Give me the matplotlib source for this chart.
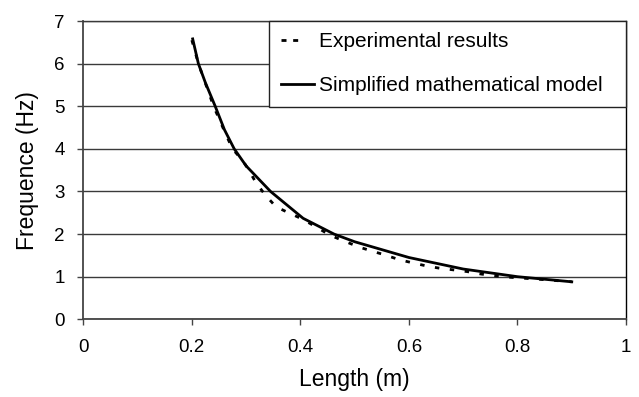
import matplotlib
matplotlib.use('Agg')
import matplotlib.pyplot as plt

# ── data ─────────────────────────────────────────────────────────────────
length_exp = [0.200, 0.212, 0.240, 0.264, 0.275, 0.295, 0.304, 0.318, 0.335,
              0.355, 0.380, 0.404, 0.430, 0.455, 0.482, 0.507, 0.532, 0.556,
              0.582, 0.605, 0.633, 0.656, 0.682, 0.707, 0.734, 0.759, 0.783,
              0.805, 0.850, 0.900]
freq_exp = [6.55, 6.00, 5.00, 4.30, 4.00, 3.70, 3.52, 3.21, 2.92,
            2.64, 2.49, 2.35, 2.16, 1.97, 1.83, 1.70, 1.60, 1.51,
            1.40, 1.33, 1.25, 1.20, 1.16, 1.12, 1.06, 1.02, 0.99,
            0.97, 0.93, 0.88]

length_model = [0.2015, 0.212, 0.225, 0.243, 0.260, 0.278, 0.300, 0.345,
                0.405, 0.462, 0.500, 0.600, 0.700, 0.800, 0.900]
freq_model = [6.58, 6.00, 5.55, 5.00, 4.45, 4.00, 3.60, 3.00,
              2.37, 2.00, 1.82, 1.45, 1.18, 1.00, 0.88]

x_ticks = [0, 0.2, 0.4, 0.6, 0.8, 1]
x_tick_labels = ['0', '0.2', '0.4', '0.6', '0.8', '1']
y_ticks = [0, 1, 2, 3, 4, 5, 6, 7]

plt.rcParams['font.family'] = ['Liberation Sans', 'DejaVu Sans']

fig = plt.figure(figsize=(6.39, 3.97), dpi=100)
ax = fig.add_axes([0.1304, 0.1957, 0.8493, 0.7514])

ax.plot(length_exp, freq_exp, color='black', lw=2.0, ls=(0, (1.6, 3.8)),
        label='Experimental results')
ax.plot(length_model, freq_model, color='black', lw=2.0,
        label='Simplified mathematical model')

ax.set_xlim(0, 1)
ax.set_ylim(0, 7)
ax.set_xticks(x_ticks)
ax.set_xticklabels(x_tick_labels)
ax.set_yticks(y_ticks)
ax.yaxis.grid(True, color='#3a3a3a', lw=1.0)
ax.set_axisbelow(True)

for side in ('left', 'bottom'):
    ax.spines[side].set_color('#444444')
    ax.spines[side].set_linewidth(1.3)
ax.spines['right'].set_color('black')
ax.spines['right'].set_linewidth(1.0)
ax.spines['top'].set_color('#3a3a3a')
ax.spines['top'].set_linewidth(1.0)

ax.tick_params(axis='both', direction='out', length=4.5, width=1.0,
               color='#444444', labelsize=13.5)
ax.tick_params(axis='y', pad=9)
ax.tick_params(axis='x', pad=10)

ax.set_xlabel('Length (m)', fontsize=16.5, labelpad=8)
ax.set_ylabel('Frequence (Hz)', fontsize=16.5, labelpad=11)

leg = ax.legend(loc='upper left', bbox_to_anchor=(0.343, 0.714, 0.657, 0.286),
                mode='expand', borderaxespad=0, fancybox=False,
                edgecolor='#222222', framealpha=1, fontsize=15,
                handlelength=1.6, handletextpad=0.25, borderpad=0.55,
                labelspacing=1.2)
leg.get_frame().set_linewidth(1.0)
# legend key shows just two short dashes, as in the reference
leg.get_lines()[0].set_dashes([1.8, 2.4, 1.8, 30])

fig.savefig('out.png', dpi=100)
